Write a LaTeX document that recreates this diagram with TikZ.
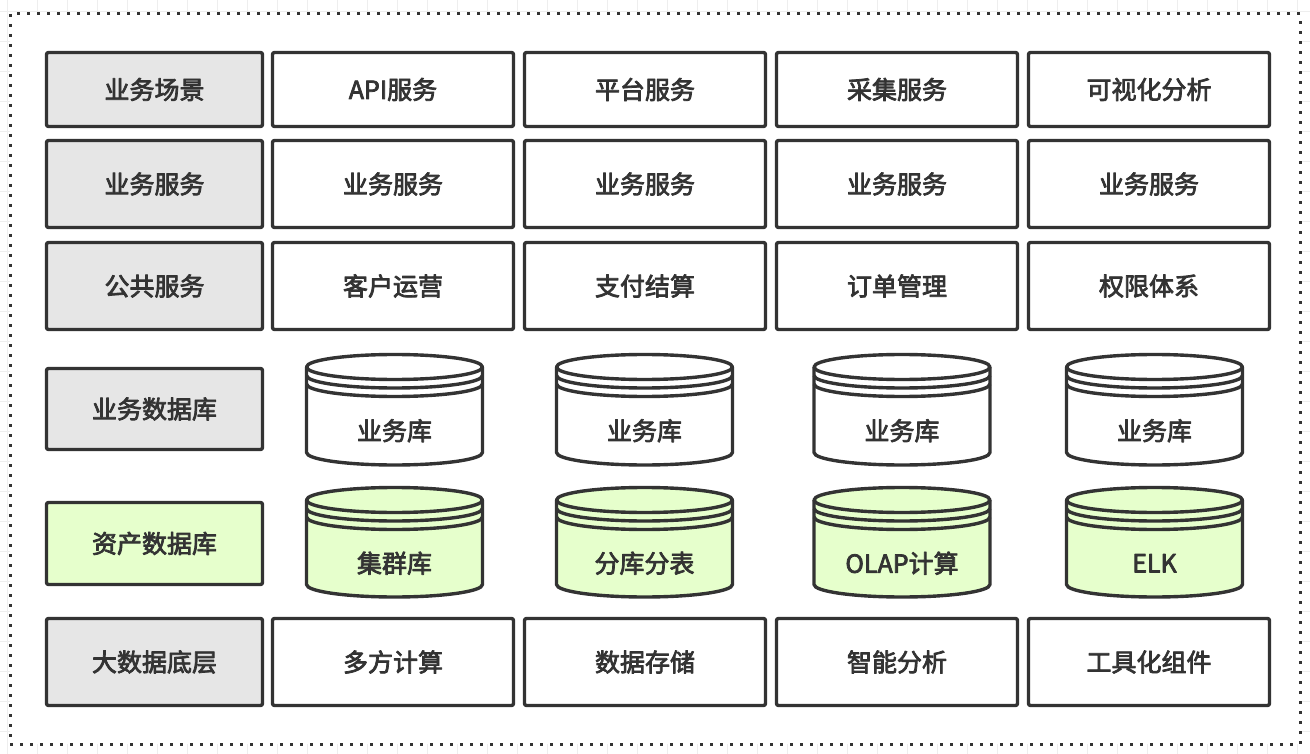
\documentclass[tikz,border=0pt]{standalone}
\usepackage{fontspec}
\newfontfamily\cjk{Noto Sans CJK SC}
\newcommand\heavy[1]{\special{pdf:literal direct 2 Tr 0.75 w 1 j}#1\special{pdf:literal direct 0 Tr}}
\definecolor{ink}{HTML}{333333}
\definecolor{graybox}{HTML}{E6E6E6}
\definecolor{greenbox}{HTML}{E6FFCC}
\definecolor{gridc}{HTML}{EEEEEE}
\newcommand\dbcyl[6]{%
  \fill[#5] ({#2-88},{#3+12.5}) -- ({#2-88},{#4-12.5})
     arc[start angle=180,end angle=360,x radius=88pt,y radius=12.5pt]
     -- ({#2+88},{#3+12.5})
     arc[start angle=0,end angle=180,x radius=88pt,y radius=12.5pt] -- cycle;
  \draw[cylline] ({#2-88},{#3+12.5}) -- ({#2-88},{#4-12.5})
     arc[start angle=180,end angle=360,x radius=88pt,y radius=12.5pt]
     -- ({#2+88},{#3+12.5});
  \draw[cylline] (#2,{#3+12.5}) ellipse[x radius=88pt,y radius=12.5pt];
  \draw[cylline] ({#2-88},{#3+21}) arc[start angle=180,end angle=360,x radius=88pt,y radius=12.5pt];
  \draw[cylline] ({#2-88},{#3+29.5}) arc[start angle=180,end angle=360,x radius=88pt,y radius=12.5pt];
  \node[dbtext] (#1) at (#2,{(#3+#4+42)/2}) {\heavy{#6}};%
}
\begin{document}
\begin{tikzpicture}[x=1pt,y=-1pt,line join=round,
  txt/.style={text=ink,font=\cjk\fontsize{25pt}{30pt}\selectfont},
  box/.style={txt,draw=ink,line width=3.4pt,rounded corners=2pt,fill=white,
    minimum width=241pt,minimum height=#1,inner sep=0pt},
  lab/.style={box=#1,fill=graybox,minimum width=216pt},
  cylline/.style={draw=ink,line width=3.4pt},
  dbtext/.style={txt,inner sep=0pt},
  border/.style={draw=ink,line width=3pt,dash pattern=on 3pt off 7pt}]
\useasboundingbox (0,0) rectangle (1310,754);
% background grid (visible only in the margin)
\foreach \x in {7,37,...,1307} \draw[gridc,line width=1pt] (\x,0) -- (\x,754);
\foreach \y in {11.7,41.7,...,754} \draw[gridc,line width=1pt] (0,\y) -- (1310,\y);
\fill[white] (10,14) rectangle (1300,744);
\draw[border] (10,14) rectangle (1300,744);
% label column
\node[lab=74pt]  (l1) at (154.5,89.5) {\heavy{业务场景}};
\node[lab=87pt]  (l2) at (154.5,184) {\heavy{业务服务}};
\node[lab=87pt]  (l3) at (154.5,286) {\heavy{公共服务}};
\node[lab=81pt]  (l4) at (154.5,409) {\heavy{业务数据库}};
\node[lab=82pt,fill=greenbox] (l5) at (154.5,543.5) {\heavy{资产数据库}};
\node[lab=87pt]  (l6) at (154.5,662) {\heavy{大数据底层}};
% row 1
\node[box=74pt] (a1) at (393,89.5) {\heavy{API服务}};
\node[box=74pt] (a2) at (645,89.5) {\heavy{平台服务}};
\node[box=74pt] (a3) at (897,89.5) {\heavy{采集服务}};
\node[box=74pt] (a4) at (1149,89.5) {\heavy{可视化分析}};
% row 2
\node[box=87pt] (b1) at (393,184) {\heavy{业务服务}};
\node[box=87pt] (b2) at (645,184) {\heavy{业务服务}};
\node[box=87pt] (b3) at (897,184) {\heavy{业务服务}};
\node[box=87pt] (b4) at (1149,184) {\heavy{业务服务}};
% row 3
\node[box=87pt] (c1) at (393,286) {\heavy{客户运营}};
\node[box=87pt] (c2) at (645,286) {\heavy{支付结算}};
\node[box=87pt] (c3) at (897,286) {\heavy{订单管理}};
\node[box=87pt] (c4) at (1149,286) {\heavy{权限体系}};
% row 4 databases
\dbcyl{d1}{394.5}{354.5}{465}{white}{业务库}
\dbcyl{d2}{644.5}{354.5}{465}{white}{业务库}
\dbcyl{d3}{902}{354.5}{465}{white}{业务库}
\dbcyl{d4}{1154.5}{354.5}{465}{white}{业务库}
% row 5 databases
\dbcyl{e1}{394.5}{487.5}{597}{greenbox}{集群库}
\dbcyl{e2}{644.5}{487.5}{597}{greenbox}{分库分表}
\dbcyl{e3}{902}{487.5}{597}{greenbox}{OLAP计算}
\dbcyl{e4}{1154.5}{487.5}{597}{greenbox}{ELK}
% row 6
\node[box=87pt] (f1) at (393,662) {\heavy{多方计算}};
\node[box=87pt] (f2) at (645,662) {\heavy{数据存储}};
\node[box=87pt] (f3) at (897,662) {\heavy{智能分析}};
\node[box=87pt] (f4) at (1149,662) {\heavy{工具化组件}};
\end{tikzpicture}
\end{document}
